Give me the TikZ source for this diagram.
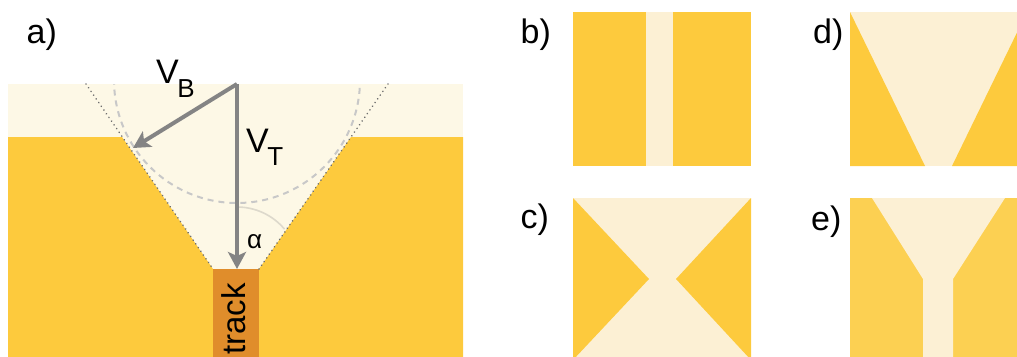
\documentclass[tikz,border=0pt]{standalone}
\usepackage{fontspec}
\setmainfont{Liberation Sans}
\usetikzlibrary{arrows.meta}
\definecolor{gold}{HTML}{FDCA3D}
\definecolor{goldE}{HTML}{FCD052}
\definecolor{cream}{HTML}{FDF8E6}
\definecolor{paleY}{HTML}{FCF0D4}
\definecolor{trackC}{HTML}{E08D2B}
\definecolor{arrowC}{HTML}{848484}
\definecolor{dotC}{HTML}{6E6E6E}
\definecolor{dashC}{HTML}{C8C8C8}
\definecolor{arcC}{HTML}{DDD9CC}
\begin{document}
\begin{tikzpicture}[x=1pt,y=-1pt,
  lab/.style={anchor=base west, inner sep=0pt, font=\fontsize{34}{34}\selectfont},
  vec/.style={draw=arrowC, line width=4pt, -{Stealth[length=17pt,width=18pt,inset=4pt]}},
  wavefront/.style={draw=dotC, line width=1.8pt, line cap=round, dash pattern=on 0.01pt off 4.5pt},
  huygens/.style={draw=dashC, line width=2pt, dash pattern=on 6pt off 5pt},
  anglearc/.style={draw=arcC, line width=1.6pt}]
\useasboundingbox (0,0) rectangle (1017,356);
\clip (0,0) rectangle (1017,356);

% ---------- panel a ----------
\fill[cream] (8,84) rectangle (463,360);
\fill[gold] (8,137) -- (122,137) -- (213,269) -- (213,360) -- (8,360) -- cycle;
\fill[gold] (463,137) -- (351,137) -- (259,269) -- (259,360) -- (463,360) -- cycle;
\fill[trackC] (213,269) rectangle (259,360);

\coordinate (dl1) at (86,84);
\coordinate (dl2) at (213,269);
\coordinate (dr1) at (388,84);
\coordinate (dr2) at (259,269);
\draw[wavefront] (dl1) -- (dl2);
\draw[wavefront] (dr1) -- (dr2);

\begin{scope}
  \clip (8,84) rectangle (463,360);
  \coordinate (cc) at (237,80);
  \draw[huygens] (cc) circle[radius=123pt];
\end{scope}

\coordinate (O) at (237,84);
\coordinate (tipB) at (133,148);
\coordinate (tipT) at (237,269);
\draw[anglearc] (tipT) ++(0,-62) arc[start angle=90, end angle=40, radius=62pt];
\draw[vec] (O) -- (tipB);
\draw[vec] (O) -- (tipT);

\node[lab] (la) at (26.5,43) {a)};
\node[lab] (vb) at (156,83) {V\kern-1.5pt\raisebox{-14pt}{\fontsize{26}{26}\selectfont B}};
\node[lab] (vt) at (246,152) {V\kern-1.5pt\raisebox{-13pt}{\fontsize{26}{26}\selectfont T}};
\node[anchor=base west, inner sep=0pt, font=\fontsize{26}{26}\selectfont] (al) at (247,248) {α};
\node[rotate=90, anchor=base east, inner sep=0pt, font=\fontsize{33}{33}\selectfont] (tr) at (245,283) {track};

% ---------- panel b ----------
\fill[gold] (573,12) rectangle (751,166);
\fill[paleY] (646,12) rectangle (673,166);
\node[lab] (lb) at (520.5,43) {b)};

% ---------- panel c ----------
\fill[paleY] (573,198) rectangle (751,362);
\fill[gold] (573,198) -- (649,279) -- (573,360) -- cycle;
\fill[gold] (751,198) -- (676,279) -- (751,360) -- cycle;
\node[lab] (lc) at (520.5,228) {c)};

% ---------- panel d ----------
\fill[paleY] (850,12) rectangle (1027,166);
\fill[gold] (850,12) -- (925,166) -- (850,166) -- cycle;
\fill[gold] (1027,12) -- (952,166) -- (1027,166) -- cycle;
\node[lab] (ld) at (813,43) {d)};

% ---------- panel e ----------
\fill[goldE] (850,198) rectangle (1027,362);
\fill[paleY] (872,198) -- (923,279) -- (923,362) -- (953,362) -- (953,279) -- (1005,198) -- cycle;
\node[lab] (le) at (811,230) {e)};
\end{tikzpicture}
\end{document}
